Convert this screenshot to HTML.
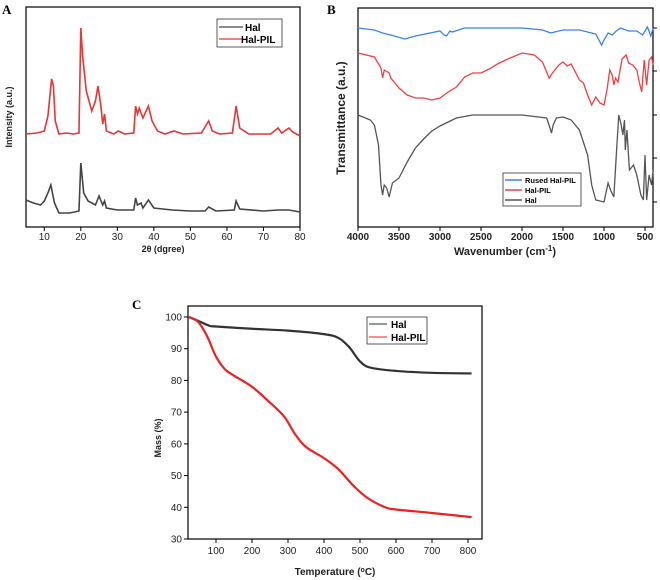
<!DOCTYPE html>
<html><head><meta charset="utf-8"><style>
body{margin:0;background:#fff;}
svg{display:block;font-family:"Liberation Sans",Arial,sans-serif;}
</style></head><body>
<svg id="fig" width="660" height="580" viewBox="0 0 660 580">
<g id="pa"></g>
<g id="pb"></g>
<g id="pc"></g>
</svg>
<script>
// ---- Panel A data (XRD) ----
const xrdTicks = [10,20,30,40,50,60,70,80];
const xrdPilX = [5,8,10,11,12,12.5,13,14,16,18,19.5,20,20.5,21.5,23,24,24.7,25.5,26,26.5,27,29,30.3,32,34.5,35,35.5,36,37,38.5,39.5,41,43,45.5,48,53,55,56,58,61.5,62.5,63.5,66,72,74,75,77,78,80];
const xrdPilY = [2,3,5,20,57,50,15,2,3,2,3,108,80,45,25,35,50,30,12,22,5,2,5,2,3,30,22,28,18,30,15,5,2,5,2,3,15,5,2,3,30,8,2,2,8,3,8,4,0];
const xrdHalX = [5,7,9,10,11,11.8,12.8,14,17,19.5,20,20.8,22,24,25,26,26.5,27,30,34.5,35,35.5,36.5,37,38.5,40,45,50,54,55,57,62,62.5,63.5,70,74,77,80];
const xrdHalY = [13,10,8,12,20,28,10,0,0,2,50,20,12,8,17,8,12,5,3,3,15,8,10,5,13,5,3,2,2,6,2,3,12,4,2,3,3,1];
// ---- Panel B data (FTIR) ----
const irTicks = [4000,3500,3000,2500,2000,1500,1000,500];
const irBlueX = [4000,3800,3700,3600,3430,3300,3000,2950,2920,2880,2850,2700,2000,1750,1650,1500,1300,1100,1030,1000,950,900,850,800,700,600,530,470,430,400];
const irBlueY = [199,197,194,192,188,191,196,192,191,196,195,199,199,197,194,197,197,193,182,187,194,192,196,199,196,196,192,200,191,199];
const irRedX = [4000,3800,3720,3700,3680,3620,3600,3500,3400,3300,3200,3100,3000,2900,2800,2700,2600,2500,2400,2300,2200,2000,1850,1750,1700,1670,1620,1550,1500,1450,1400,1350,1300,1250,1200,1150,1100,1050,1000,960,930,900,880,860,830,780,730,700,650,600,570,540,510,480,450,420,400];
const irRedY = [174,170,159,149,157,154,149,139,132,129,129,127,129,135,140,150,154,154,158,163,167,174,172,165,155,149,155,162,165,161,163,155,147,144,132,122,130,124,122,139,157,152,142,149,145,168,172,164,162,157,145,135,167,142,167,170,162];
const irHalX = [4000,3850,3800,3750,3720,3700,3680,3650,3620,3580,3500,3400,3300,3200,3100,3000,2900,2800,2600,2000,1800,1700,1670,1640,1620,1580,1500,1400,1300,1200,1150,1100,1000,950,920,880,850,820,790,770,750,740,720,690,640,600,550,520,500,480,450,420,400];
const irHalY = [112,107,102,82,42,32,42,39,30,44,49,65,79,88,96,101,105,109,112,112,110,109,102,94,102,109,110,107,97,72,42,27,25,44,37,30,72,112,102,92,107,77,97,57,62,52,32,27,72,27,52,42,57];
// ---- Panel C data (TGA) ----
const tgaXTicks = [100,200,300,400,500,600,700,800];
const tgaYTicks = [30,40,50,60,70,80,90,100];
const tgaHalT = [25,50,80,100,200,300,400,440,470,500,530,600,700,810];
const tgaHalM = [100,98.8,97.3,97,96.3,95.7,94.6,93.4,90.5,86,84,83,82.4,82.2];
const tgaPilT = [25,50,75,100,125,150,200,250,290,320,350,400,440,480,520,570,600,700,810];
const tgaPilM = [100,98.5,94,87.5,83.5,81.5,78,73,68.5,63,59,55.5,52,47,43,40,39.3,38.2,36.9];

const NS="http://www.w3.org/2000/svg";
function el(parent,tag,attrs,text){const e=document.createElementNS(NS,tag);for(const k in attrs)e.setAttribute(k,attrs[k]);if(text!==undefined)e.textContent=text;parent.appendChild(e);return e;}
function lin(d0,d1,r0,r1){return v=>r0+(v-d0)*(r1-r0)/(d1-d0);}
function pathLin(xs,ys,sx,sy){return xs.map((x,i)=>(i?'L':'M')+sx(x).toFixed(2)+','+sy(ys[i]).toFixed(2)).join('');}
function pathSmooth(xs,ys,sx,sy){const p=xs.map((x,i)=>[sx(x),sy(ys[i])]);let d='M'+p[0][0]+','+p[0][1];for(let i=0;i<p.length-1;i++){const a=p[i-1]||p[i],b=p[i],c=p[i+1],e=p[i+2]||c;d+='C'+(b[0]+(c[0]-a[0])/6)+','+(b[1]+(c[1]-a[1])/6)+' '+(c[0]-(e[0]-b[0])/6)+','+(c[1]-(e[1]-b[1])/6)+' '+c[0]+','+c[1];}return d;}

// ===== Panel A =====
const A=document.getElementById('pa');
const axA=lin(5,80,26,300);
const redBase=v=>136-v, blkBase=v=>213-v;
let t=el(A,'text',{x:2,y:14,'font-family':'Liberation Serif,serif','font-weight':'bold','font-size':13});t.textContent='A';

let r=el(A,'rect',{x:26,y:7,width:274,height:220,fill:'none',stroke:'#000','stroke-width':1.2});

xrdTicks.forEach(v=>{const x=axA(v);el(A,'line',{x1:x,x2:x,y1:227,y2:231,stroke:'#000'});
 const l=el(A,'text',{x:x,y:240,'text-anchor':'middle','font-size':10,fill:'#222'},v);
 });
let p=el(A,'path',{d:pathLin(xrdPilX,xrdPilY,axA,redBase),fill:'none',stroke:'#e53535','stroke-width':1.6});

p=el(A,'path',{d:pathLin(xrdHalX,xrdHalY,axA,blkBase),fill:'none',stroke:'#444','stroke-width':1.6});

t=el(A,'text',{x:12,y:117,'font-size':9,'font-weight':'bold',fill:'#222','text-anchor':'middle',transform:'rotate(-90 12 117)'},'Intensity (a.u.)');

t=el(A,'text',{x:163,y:252,'font-size':9,'font-weight':'bold',fill:'#222','text-anchor':'middle'},'2θ (dgree)');

let g=el(A,'g',{});
el(g,'rect',{x:217,y:19,width:65,height:28,fill:'#fff',stroke:'#333','stroke-width':0.8});
el(g,'line',{x1:219,x2:243,y1:27,y2:27,stroke:'#444','stroke-width':1.2});
el(g,'line',{x1:219,x2:243,y1:39,y2:39,stroke:'#e53535','stroke-width':1.2});
el(g,'text',{x:245,y:31,'font-size':10,'font-weight':'bold'},'Hal');
el(g,'text',{x:241,y:43,'font-size':10,'font-weight':'bold'},'Hal-PIL');

// ===== Panel B =====
const B=document.getElementById('pb');
const bx=lin(4000,500,358,645), by=v=>227-v;
t=el(B,'text',{x:327,y:14,'font-family':'Liberation Serif,serif','font-weight':'bold','font-size':13},'B');

r=el(B,'rect',{x:358,y:8,width:295,height:219,fill:'none',stroke:'#000','stroke-width':1.2});

irTicks.forEach(v=>{const x=bx(v);el(B,'line',{x1:x,x2:x,y1:227,y2:231,stroke:'#000'});
 const l=el(B,'text',{x:x,y:240,'text-anchor':'middle','font-size':10,'font-weight':'bold',fill:'#222'},v);
 });
[28,71,115,158,202].forEach(y=>el(B,'line',{x1:653,x2:657,y1:y,y2:y,stroke:'#000'}));
p=el(B,'path',{d:pathLin(irBlueX,irBlueY,bx,by),fill:'none',stroke:'#3b82f0','stroke-width':1.3});

p=el(B,'path',{d:pathLin(irRedX,irRedY,bx,by),fill:'none',stroke:'#ef4040','stroke-width':1.3});

p=el(B,'path',{d:pathLin(irHalX,irHalY,bx,by),fill:'none',stroke:'#555','stroke-width':1.3});

t=el(B,'text',{x:345,y:118,'font-size':12,'font-weight':'bold',fill:'#222','text-anchor':'middle',transform:'rotate(-90 345 118)'},'Transmittance (a.u.)');

t=el(B,'text',{x:505,y:255,'font-size':11,'font-weight':'bold',fill:'#222','text-anchor':'middle'});
t.innerHTML='Wavenumber (cm<tspan dy="-4" font-size="8">-1</tspan><tspan dy="4">)</tspan>';

g=el(B,'g',{});
el(g,'rect',{x:503,y:173,width:78,height:33,fill:'#fff',stroke:'#333','stroke-width':0.8});
el(g,'line',{x1:505,x2:522,y1:180,y2:180,stroke:'#3b82f0','stroke-width':1.5});
el(g,'line',{x1:505,x2:522,y1:190,y2:190,stroke:'#ef4040','stroke-width':1.5});
el(g,'line',{x1:505,x2:522,y1:200,y2:200,stroke:'#555','stroke-width':1.5});
el(g,'text',{x:525,y:183,'font-size':7.5,'font-weight':'bold'},'Rused Hal-PIL');
el(g,'text',{x:525,y:193,'font-size':7.5,'font-weight':'bold'},'Hal-PIL');
el(g,'text',{x:525,y:203,'font-size':7.5,'font-weight':'bold'},'Hal');

// ===== Panel C =====
const C=document.getElementById('pc');
const cx=lin(100,800,216,468), cy=lin(100,30,317,539);
t=el(C,'text',{x:132,y:309,'font-family':'Liberation Serif,serif','font-weight':'bold','font-size':13},'C');

r=el(C,'rect',{x:188,y:306,width:294,height:233,fill:'none',stroke:'#000','stroke-width':1.2});

tgaXTicks.forEach(v=>{const x=cx(v);el(C,'line',{x1:x,x2:x,y1:539,y2:543,stroke:'#000'});
 const l=el(C,'text',{x:x,y:554,'text-anchor':'middle','font-size':10,fill:'#222'},v);
 });
tgaYTicks.forEach(v=>{const y=cy(v);el(C,'line',{x1:184,x2:188,y1:y,y2:y,stroke:'#000'});
 const l=el(C,'text',{x:182,y:y+3.5,'text-anchor':'end','font-size':10,fill:'#222'},v);
 });
p=el(C,'path',{d:pathSmooth(tgaHalT,tgaHalM,cx,cy),fill:'none',stroke:'#333','stroke-width':2.2});

p=el(C,'path',{d:pathSmooth(tgaPilT,tgaPilM,cx,cy),fill:'none',stroke:'#ee2020','stroke-width':2.2});

t=el(C,'text',{x:161,y:438,'font-size':9,'font-weight':'bold',fill:'#222','text-anchor':'middle',transform:'rotate(-90 161 438)'},'Mass (%)');

t=el(C,'text',{x:335,y:575,'font-size':10,'font-weight':'bold',fill:'#222','text-anchor':'middle'});
t.innerHTML='Temperature (<tspan dy="-3" font-size="7">o</tspan><tspan dy="3">C)</tspan>';

g=el(C,'g',{});
el(g,'rect',{x:367,y:317,width:60,height:27,fill:'#fff',stroke:'#333','stroke-width':0.8});
el(g,'line',{x1:369,x2:387,y1:324,y2:324,stroke:'#333','stroke-width':1});
el(g,'line',{x1:369,x2:387,y1:337,y2:337,stroke:'#ee2020','stroke-width':1});
el(g,'text',{x:391,y:328,'font-size':10,'font-weight':'bold'},'Hal');
el(g,'text',{x:391,y:341,'font-size':10,'font-weight':'bold'},'Hal-PIL');
</script>
</body></html>
